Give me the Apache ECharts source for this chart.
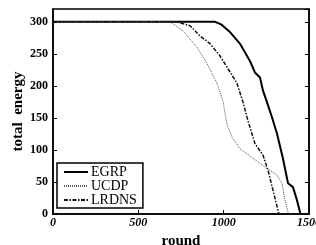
<!DOCTYPE html>
<html>
<head>
<meta charset="utf-8">
<script src="https://cdn.jsdelivr.net/npm/echarts@6/dist/echarts.min.js"></script>
<style>
    html, body { margin: 0; padding: 0; background: #fff; }
    #chart { width: 316px; height: 245px; }
</style>
</head>
<body>
<div id="chart"></div>
<script>
// values
let egrpRound = [0, 950, 985, 1037, 1095, 1154, 1183, 1213, 1230, 1257, 1283, 1312, 1347, 1377, 1406, 1429, 1450];
let egrpEnergy = [300, 300, 296, 284, 266, 239, 221, 213, 193, 172, 151, 126, 87, 48, 42, 22, 0];

let ucdpRound = [0, 685, 762, 844, 902, 961, 996, 1019, 1049, 1095, 1172, 1254, 1312, 1342, 1359, 1380];
let ucdpEnergy = [300, 300, 286, 260, 235, 204, 176, 141, 120, 102, 87, 71, 61, 48, 22, 0];

let lrdnsRound = [0, 720, 803, 861, 920, 978, 1025, 1078, 1113, 1142, 1183, 1230, 1260, 1289, 1324];
let lrdnsEnergy = [300, 300, 294, 278, 266, 247, 227, 204, 175, 146, 110, 92, 68, 37, 0];

let xTicks = [0, 500, 1000, 1500];
let yTicks = [0, 50, 100, 150, 200, 250, 300];

function pairs(xs, ys) {
    let out = [];
    for (let i = 0; i < xs.length; i++) {
        out.push([xs[i], ys[i]]);
    }
    return out;
}

let eChart = echarts.init(document.getElementById('chart'));

let serif = 'Liberation Serif';

let option = {
    animation: false,
    backgroundColor: '#ffffff',
    grid: {
        left: 53,
        right: 7,
        top: 9,
        bottom: 31,
        outerBoundsMode: 'none',
        containLabel: false,
        show: true,
        borderColor: '#000',
        borderWidth: 1.5
    },
    legend: {
        orient: 'vertical',
        left: 57,
        top: 163,
        padding: [2, 6, 1, 6],
        itemGap: 0,
        itemWidth: 24,
        itemHeight: 12,
        borderColor: '#000',
        borderWidth: 1.5,
        backgroundColor: '#fff',
        itemStyle: { opacity: 0 },
        textStyle: {
            fontFamily: serif,
            fontSize: 14,
            color: '#000',
            padding: [0, 0, 0, -2]
        },
        data: ['EGRP', 'UCDP', 'LRDNS']
    },
    xAxis: {
        type: 'value',
        min: 0,
        max: 1500,
        interval: 500,
        name: 'round',
        nameLocation: 'middle',
        nameGap: 15,
        nameTextStyle: {
            fontFamily: serif,
            fontSize: 15,
            fontWeight: 'bold',
            color: '#000'
        },
        axisLine: { lineStyle: { color: '#000', width: 1.5 } },
        axisTick: { inside: true, length: 4, lineStyle: { color: '#000' } },
        axisLabel: {
            fontFamily: serif,
            fontStyle: 'italic',
            fontWeight: 'bold',
            fontSize: 12,
            color: '#000',
            margin: 3,
            formatter: function (v) { return String(v); }
        },
        splitLine: { show: false }
    },
    yAxis: [
        {
            type: 'value',
            min: 0,
            max: 320,
            interval: 50,
            name: 'total  energy',
            nameLocation: 'middle',
            nameGap: 27,
            nameMoveOverlap: false,
            nameTextStyle: {
                fontFamily: serif,
                fontSize: 15,
                fontWeight: 'bold',
                color: '#000',
                padding: [0, 0, 0, 0]
            },
            axisLine: { lineStyle: { color: '#000', width: 1.5 } },
            axisTick: { inside: true, length: 4, lineStyle: { color: '#000' } },
            axisLabel: {
                fontFamily: serif,
                fontWeight: 'bold',
                fontSize: 12,
                color: '#000',
                margin: 5,
                showMaxLabel: false
            },
            splitLine: { show: false }
        },
        {
            type: 'value',
            position: 'right',
            min: 0,
            max: 320,
            interval: 50,
            axisLine: { show: true, lineStyle: { color: '#000', width: 1.5 } },
            axisTick: { inside: true, length: 4, lineStyle: { color: '#000' } },
            axisLabel: { show: false },
            splitLine: { show: false }
        }
    ],
    series: [
        {
            name: 'EGRP',
            type: 'line',
            data: pairs(egrpRound, egrpEnergy),
            showSymbol: false,
            symbol: 'none',
            lineStyle: { color: '#000', width: 2 },
            itemStyle: { color: '#000' }
        },
        {
            name: 'UCDP',
            type: 'line',
            data: pairs(ucdpRound, ucdpEnergy),
            showSymbol: false,
            symbol: 'none',
            lineStyle: { color: '#555', width: 1, type: [1, 1] },
            itemStyle: { color: '#555' }
        },
        {
            name: 'LRDNS',
            type: 'line',
            data: pairs(lrdnsRound, lrdnsEnergy),
            showSymbol: false,
            symbol: 'none',
            lineStyle: { color: '#111', width: 1.5, type: [4, 1.5, 1.5, 1.5] },
            itemStyle: { color: '#111' }
        }
    ]
};

eChart.setOption(option);
</script>
</body>
</html>
